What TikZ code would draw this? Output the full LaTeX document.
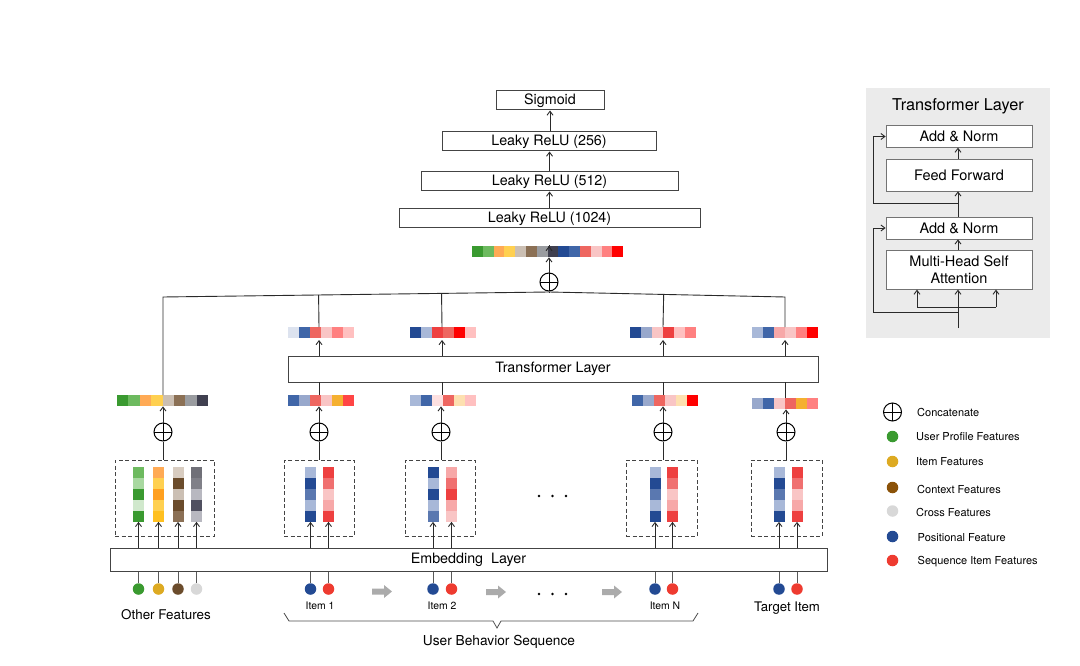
\documentclass[tikz,border=0pt]{standalone}
\usepackage{fontspec}
\setmainfont{TeX Gyre Heros}
\usetikzlibrary{arrows.meta,calc}
% palette
\definecolor{gA}{HTML}{3A9A30}\definecolor{gB}{HTML}{6DBA5F}\definecolor{gC}{HTML}{A8D8A0}\definecolor{gD}{HTML}{D0E8CC}
\definecolor{oA}{HTML}{FFAA55}\definecolor{yA}{HTML}{FFD050}\definecolor{oB}{HTML}{FFA020}\definecolor{yB}{HTML}{FFC020}
\definecolor{brA}{HTML}{CBBFB3}\definecolor{brB}{HTML}{8B7055}\definecolor{brC}{HTML}{6B4C2C}\definecolor{brD}{HTML}{D8CCC0}
\definecolor{grA}{HTML}{9A9CA0}\definecolor{grB}{HTML}{404050}\definecolor{grC}{HTML}{707078}\definecolor{grD}{HTML}{B8B8C0}\definecolor{grE}{HTML}{505060}\definecolor{grF}{HTML}{808088}
\definecolor{bA}{HTML}{234A93}\definecolor{bB}{HTML}{4066A8}\definecolor{bC}{HTML}{5A78B0}\definecolor{bD}{HTML}{A8B8D8}\definecolor{bE}{HTML}{DDE3EF}\definecolor{bF}{HTML}{98A8CC}
\definecolor{rA}{HTML}{FF0000}\definecolor{rB}{HTML}{EE4040}\definecolor{rC}{HTML}{EE6660}\definecolor{rD}{HTML}{F07070}\definecolor{rE}{HTML}{FF8080}\definecolor{rF}{HTML}{F7A8A8}\definecolor{rG}{HTML}{F9C5C5}\definecolor{rH}{HTML}{FFC0C0}\definecolor{rI}{HTML}{FDE0E0}\definecolor{rJ}{HTML}{FF4545}
\definecolor{peA}{HTML}{FDE0B0}\definecolor{orA}{HTML}{F5B030}
\definecolor{dotG}{HTML}{3A9A30}\definecolor{dotY}{HTML}{DDAA22}\definecolor{dotBr}{HTML}{6B4C2C}\definecolor{dotBrL}{HTML}{8B5208}\definecolor{dotGr}{HTML}{D8D8D8}\definecolor{dotB}{HTML}{234A93}\definecolor{dotR}{HTML}{EE3B30}
\definecolor{panel}{HTML}{EBEBEB}\definecolor{linec}{HTML}{2A2A2A}\definecolor{boxc}{HTML}{444444}\definecolor{arrowgray}{HTML}{ABABAB}
% row of cells: name, left x, top y, cell width, number of cells, colours
\newcommand\vecrow[6]{%
  \node[inner sep=0, minimum width={#4*#5}, minimum height=11, anchor=north west] (#1) at (#2,#3) {};
  \foreach \c [count=\i from 0] in {#6}{\fill[\c] ({#2+\i*#4},#3) rectangle ++(#4,11);}}
% column of 5 cells: name, centre x, colours
\newcommand\veccol[3]{%
  \node[inner sep=0, minimum width=11, minimum height=54.5, anchor=north] (#1) at (#2,467) {};
  \foreach \c [count=\i from 0] in {#3}{\fill[\c] ({#2-5.5},{467+\i*10.9}) rectangle ++(11,10.9);}}
\newcommand\grayarrow[2]{%
  \fill[arrowgray] (#1,{#2-3}) -- ({#1+12},{#2-3}) -- ({#1+12},{#2-6.5}) -- ({#1+20},#2) -- ({#1+12},{#2+6.5}) -- ({#1+12},{#2+3}) -- (#1,{#2+3}) -- cycle;}
\tikzset{
  box/.style={draw=boxc, line width=1pt, fill=white, inner sep=0, font=\fontsize{14.3}{16}\selectfont},
  ibox/.style={draw=black!55, line width=0.8pt, fill=white, inner sep=0, minimum width=146, font=\fontsize{14.5}{17}\selectfont, align=center},
  arr/.style={-{Straight Barb[length=4pt,width=6pt]}, line width=0.9pt, draw=linec},
  ln/.style={line width=0.9pt, draw=linec},
  dbox/.style={draw=boxc, dashed, dash pattern=on 4pt off 2.5pt, line width=0.9pt, minimum height=76, inner sep=0},
  oplus/.style={circle, draw=black, line width=1pt, minimum size=18, inner sep=0,
    path picture={\draw[line width=1pt] (path picture bounding box.north) -- (path picture bounding box.south) (path picture bounding box.west) -- (path picture bounding box.east);}},
  dot/.style={circle, inner sep=0, minimum size=11.5},
  lbl/.style={font=\fontsize{11}{13}\selectfont, anchor=west, inner sep=0},
}
\begin{document}
\begin{tikzpicture}[x=1pt,y=-1pt]
\useasboundingbox (0,0) rectangle (1080,666);
% ---------------- MLP tower
\node[box, minimum width=108, minimum height=19] (sig) at (550,100.5) {Sigmoid};
\node[box, minimum width=214, minimum height=19] (l256) at (549,141.5) {Leaky ReLU (256)};
\node[box, minimum width=257, minimum height=19] (l512) at (549.5,181.5) {Leaky ReLU (512)};
\node[box, minimum width=301, minimum height=19] (l1024) at (549.5,218.5) {Leaky ReLU (1024)};
\vecrow{vtop}{472}{246}{10.8}{14}{gA,gB,oA,yA,brA,brB,grA,grB,bA,bB,rC,rG,rE,rA}
\node[oplus] (ctop) at (549,282) {};
\draw[arr] (l256.north -| sig.south) -- (sig.south);
\draw[arr] (l512.north) -- (l512.north |- l256.south);
\draw[arr] (l1024.north) -- (l1024.north |- l512.south);
\draw[arr] (vtop.north -| ctop.north) -- (vtop.north -| ctop.north |- l1024.south);
\draw[arr] (ctop.north) -- (ctop.north |- vtop.south);
\coordinate (J) at (549,292);
\coordinate (Lft) at (163,297);
\coordinate (Rgt) at (785,297);
% ---------------- transformer layer
\node[box, minimum width=530, minimum height=26] (tl) at (553,369) {Transformer Layer};
% upper vectors
\vecrow{u1}{288}{327}{11}{6}{bE,bB,rC,rG,rE,rH}
\vecrow{u2}{410}{327}{11}{6}{bA,bD,rB,rC,rA,rH}
\vecrow{uN}{630}{327}{11}{6}{bA,bF,rG,rB,rH,rE}
\vecrow{uT}{752}{327}{11}{6}{bD,bB,rF,rG,rE,rA}
% lower vectors
\vecrow{vO}{117}{395}{11.4}{8}{gA,gB,oA,yA,brA,brB,grA,grB}
\vecrow{v1}{288}{395}{11}{6}{bB,bF,rC,rG,orA,rJ}
\vecrow{v2}{410}{395}{11}{6}{bD,bB,rI,rC,peA,rH}
\vecrow{vN}{632}{395}{11}{6}{bB,bF,rC,rG,peA,rA}
\vecrow{vT}{752}{398}{11}{6}{bF,bB,rG,rC,orA,rE}
% concentration lines
\draw[ln] (Lft |- vO.north) -- (Lft) -- (J) -- (Rgt) -- (Rgt |- uT.north);
\draw[ln] (J) -- (ctop.south);
\draw[ln] (319,327) -- ($(Lft)!(319,327)!(J)$);
\draw[ln] (442,327) -- ($(Lft)!(442,327)!(J)$);
\draw[ln] (663,327) -- ($(J)!(663,327)!(Rgt)$);
\foreach \xx/\uu in {319/u1,442/u2,663/uN,785/uT}{
  \draw[arr] (\xx,356) -- (\xx,340);
}
\foreach \xx/\vv in {319/v1,442/v2,663/vN,785/vT}{
  \draw[ln] (\xx,382) -- (\vv.north -| \xx,0);
}
% oplus (lower)
\node[oplus] (cO) at (163,432) {};
\node[oplus] (c1) at (319,432) {};
\node[oplus] (c2) at (441,432) {};
\node[oplus] (cN) at (663,432) {};
\node[oplus] (cT) at (786,432) {};
\draw[arr] (cO.north) -- (cO.north |- vO.south);
\draw[arr] (c1.north) -- (c1.north |- v1.south);
\draw[arr] (c2.north) -- (c2.north |- v2.south);
\draw[arr] (cN.north) -- (cN.north |- vN.south);
\draw[arr] (cT.north) -- (cT.north |- vT.south);
% dashed boxes
\node[dbox, minimum width=99] (bO) at (164.5,498) {};
\node[dbox, minimum width=70] (b1) at (319,498) {};
\node[dbox, minimum width=70] (b2) at (440,498) {};
\node[dbox, minimum width=71] (bN) at (661.5,498) {};
\node[dbox, minimum width=71] (bT) at (786.5,498) {};
\draw[ln] (cO.south |- bO.north) -- (cO.south);
\draw[ln] (c1.south |- b1.north) -- (c1.south);
\draw[ln] (c2.south |- b2.north) -- (c2.south);
\draw[ln] (cN.south |- bN.north) -- (cN.south);
\draw[ln] (cT.south |- bT.north) -- (cT.south);
% bars
\veccol{oA1}{138.5}{gB,gC,gA,gD,gA}
\veccol{oA2}{158.5}{oA,yA,oB,yA,yB}
\veccol{oA3}{178}{brD,brC,brA,brC,brB}
\veccol{oA4}{196.5}{grC,grF,grD,grE,grD}
\veccol{i1b}{310.5}{bD,bA,bC,bD,bA}
\veccol{i1r}{328.5}{rB,rD,rG,rF,rB}
\veccol{i2b}{433}{bA,bD,bA,bD,bC}
\veccol{i2r}{451.5}{rF,rD,rB,rF,rG}
\veccol{iNb}{655}{bD,bA,bC,bD,bA}
\veccol{iNr}{672.5}{rB,rD,rG,rF,rB}
\veccol{iTb}{779}{bD,bA,bC,bD,bA}
\veccol{iTr}{797}{rB,rD,rG,rF,rB}
% middle dots
\foreach \xx in {539,552.5,566} \fill[black] (\xx,496) circle (1.3);
% embedding layer
\node[box, minimum width=717, minimum height=23] (emb) at (468.5,559.5) {Embedding\ \ Layer};
\foreach \bb in {oA1,oA2,oA3,oA4,i1b,i1r,i2b,i2r,iNb,iNr,iTb,iTr}{
  \draw[arr] (emb.north -| \bb.south) -- (\bb.south);
}
% input dots
\node[dot, fill=dotG] (dO1) at (138.5,589) {};
\node[dot, fill=dotY] (dO2) at (158.5,589) {};
\node[dot, fill=dotBr] (dO3) at (178,589) {};
\node[dot, fill=dotGr] (dO4) at (196.5,589) {};
\node[dot, fill=dotB] (d1b) at (310.5,589) {};
\node[dot, fill=dotR] (d1r) at (328.5,589) {};
\node[dot, fill=dotB] (d2b) at (433,589) {};
\node[dot, fill=dotR] (d2r) at (451.5,589) {};
\node[dot, fill=dotB] (dNb) at (655,589) {};
\node[dot, fill=dotR] (dNr) at (672.5,589) {};
\node[dot, fill=dotB] (dTb) at (779,589) {};
\node[dot, fill=dotR] (dTr) at (797,589) {};
\foreach \dd in {dO1,dO2,dO3,dO4,d1b,d1r,d2b,d2r,dNb,dNr,dTb,dTr}{
  \draw[ln, draw=black!65] (\dd.north) -- (\dd.north |- emb.south);
}
\grayarrow{372}{591.5}
\grayarrow{486}{592}
\grayarrow{602}{592}
\foreach \xx in {539,552.5,566} \fill[black] (\xx,594) circle (1.3);
% labels
\node[font=\fontsize{13.4}{15}\selectfont] (tOther) at (166,615) {Other Features};
\node[font=\fontsize{10.4}{12}\selectfont] (t1) at (320,606) {Item 1};
\node[font=\fontsize{10.4}{12}\selectfont] (t2) at (442,606) {Item 2};
\node[font=\fontsize{10.4}{12}\selectfont] (tN) at (665,606) {Item N};
\node[font=\fontsize{13.2}{15}\selectfont] (tT) at (787,608) {Target Item};
\node[font=\fontsize{13.7}{15}\selectfont] (tUBS) at (499,642) {User Behavior Sequence};
\draw[line width=0.8pt, draw=black!70] (284,613) -- (289,621) -- (493,621) -- (497,628) -- (501,621) -- (693,621) -- (698,613);
% ---------------- transformer detail panel
\fill[panel] (866,88) rectangle (1050,338);
\node[font=\fontsize{16.3}{18}\selectfont] (ttitle) at (958,106) {Transformer Layer};
\node[ibox, minimum height=21.5] (an1) at (959,136.5) {Add \& Norm};
\node[ibox, minimum height=32] (ff) at (959,175) {Feed Forward};
\node[ibox, minimum height=22] (an2) at (959,228) {Add \& Norm};
\node[ibox, minimum height=38.5] (mh) at (959,270) {Multi-Head Self\\Attention};
\coordinate (tin) at (958,328);
\coordinate (tsp) at (958,307);
\coordinate (tsL) at (917,307);
\coordinate (tsR) at (996,307);
\coordinate (tr1) at (958,312);
\coordinate (rx1) at (873,312);
\coordinate (tr2) at (958,203);
\coordinate (rx2) at (873,203);
\draw[ln] (tin) -- (tsp);
\draw[ln] (tsL) -- (tsR);
\draw[arr] (tsL) -- (tsL |- mh.south);
\draw[arr] (tsp) -- (tsp |- mh.south);
\draw[arr] (tsR) -- (tsR |- mh.south);
\draw[arr] (tr1) -- (rx1) |- (an2.west);
\draw[arr] (tsp |- mh.north) -- (tsp |- an2.south);
\draw[arr] (tsp |- an2.north) -- (tsp |- ff.south);
\draw[arr] (tr2) -- (rx2) |- (an1.west);
\draw[arr] (tsp |- ff.north) -- (tsp |- an1.south);
% ---------------- legend
\node[oplus] (lc) at (892.5,412) {};
\node[lbl] (lt0) at (917,412) {Concatenate};
\node[dot, fill=dotG] (ld1) at (892.5,436.5) {};
\node[lbl] (lt1) at (916,437) {User Profile Features};
\node[dot, fill=dotY] (ld2) at (892.5,461.5) {};
\node[lbl] (lt2) at (916,461.5) {Item Features};
\node[dot, fill=dotBrL] (ld3) at (892.5,487.5) {};
\node[lbl] (lt3) at (917,489) {Context Features};
\node[dot, fill=dotGr] (ld4) at (892.5,511) {};
\node[lbl] (lt4) at (916,512) {Cross Features};
\node[dot, fill=dotB] (ld5) at (892.5,536.5) {};
\node[lbl] (lt5) at (917.5,538) {Positional Feature};
\node[dot, fill=dotR] (ld6) at (892.5,560.5) {};
\node[lbl] (lt6) at (917.5,562) {Sequence Item Features};
\end{tikzpicture}
\end{document}
